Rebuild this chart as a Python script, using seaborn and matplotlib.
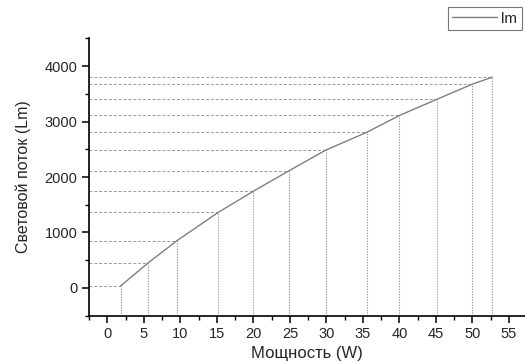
import matplotlib
matplotlib.use("Agg")
import matplotlib.pyplot as plt
import seaborn as sns
import pandas as pd
from matplotlib.ticker import MultipleLocator

# Power (W) vs luminous flux (lm)
power = [1.8, 5.6, 9.5, 15.2, 20.0, 24.9, 29.9, 35.5, 40.0, 45.1, 50.0, 52.7]
flux = [36, 455, 850, 1365, 1745, 2115, 2485, 2805, 3110, 3400, 3675, 3800]
series_name = "lm"

sns.set_style("white")
plt.rcParams["font.family"] = ["Liberation Sans", "DejaVu Sans"]

df = pd.DataFrame({"power": power, "flux": flux})

fig = plt.figure(figsize=(5.25, 3.62), dpi=100)
ax = fig.add_axes([0.170, 0.128, 0.830, 0.766])

xmin, xmax = -2.5, 57.2
ymin, ymax = -500, 4500

# drop lines to the axes
for x, y in zip(power, flux):
    ax.plot([x, x], [ymin, y], color="#9a9a9a", linestyle=(0, (1.2, 1.2)), linewidth=0.8)
    ax.plot([xmin, x], [y, y], color="#9a9a9a", linestyle=(0, (3, 2)), linewidth=0.7)

sns.lineplot(data=df, x="power", y="flux", color="#7f7f7f", linewidth=1.0,
             label=series_name, ax=ax)

ax.set_xlim(xmin, xmax)
ax.set_ylim(ymin, ymax)
ax.xaxis.set_minor_locator(MultipleLocator(2.5))
ax.yaxis.set_minor_locator(MultipleLocator(500))
ax.set_xticks(range(0, 56, 5))
ax.set_yticks(range(0, 4001, 1000))

for s in ["top", "right"]:
    ax.spines[s].set_visible(False)
for s in ["left", "bottom"]:
    ax.spines[s].set_color("black")
    ax.spines[s].set_linewidth(1.2)

ax.tick_params(which="major", direction="out", length=5, width=1.1, color="black",
               labelsize=10.5, bottom=True, left=True)
ax.tick_params(which="minor", direction="out", length=3, width=1.0, color="black",
               bottom=True, left=True)

ax.set_xlabel("Мощность (W)", fontsize=12, labelpad=3)
ax.set_ylabel("Световой поток (Lm)", fontsize=11.5, labelpad=10)

leg = ax.legend(loc="upper right", bbox_to_anchor=(0.9937, 0.980),
                bbox_transform=fig.transFigure, frameon=True,
                fancybox=False, fontsize=11, handlelength=2.9, borderpad=0.3,
                handletextpad=0.3, borderaxespad=0)
leg.get_frame().set_edgecolor("#555555")
leg.get_frame().set_linewidth(0.8)

fig.savefig("out.png", dpi=100)
